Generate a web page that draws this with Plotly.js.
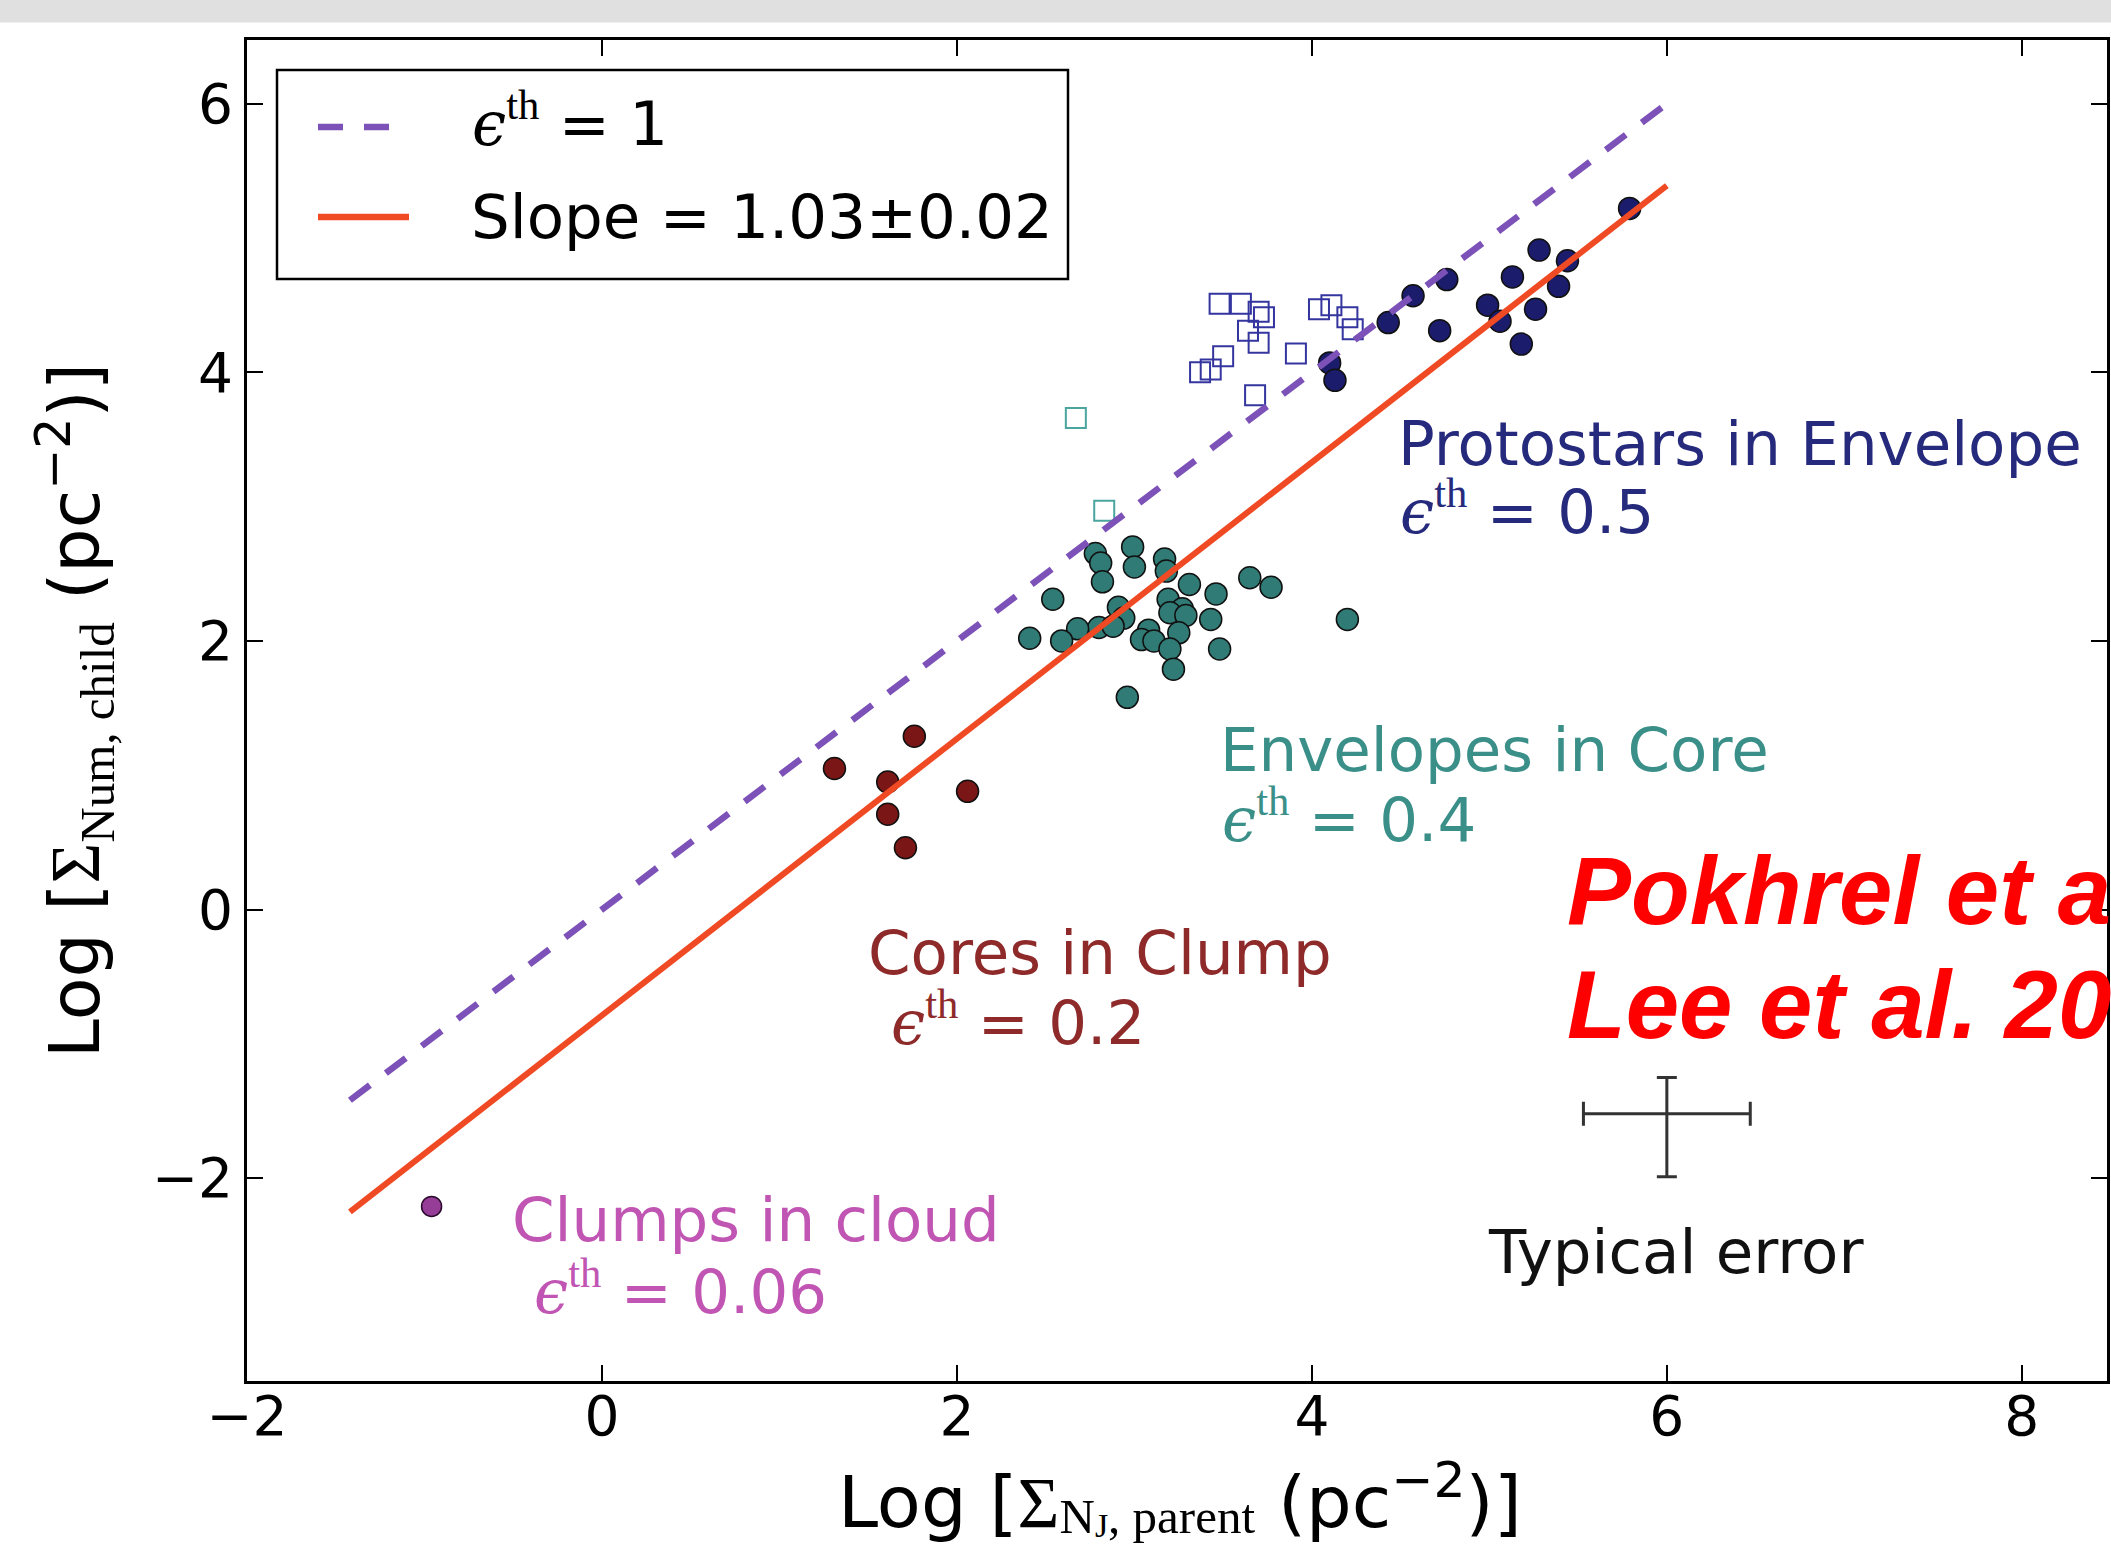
<!DOCTYPE html>
<html>
<head>
<meta charset="utf-8">
<script src="https://cdn.plot.ly/plotly-3.0.1.min.js"></script>
<style>
html,body{margin:0;padding:0;background:#ffffff;}
#chart{width:2111px;height:1548px;}
</style>
</head>
<body>
<div id="chart"></div>
<script>
// ---------------- data ----------------
// Protostars in Envelope (filled navy circles)
const protostarX = [5.79, 5.28, 5.44, 5.13, 5.39, 4.76, 4.57, 4.99, 5.26, 5.06, 4.43, 4.72, 5.18, 4.10, 4.13];
const protostarY = [5.22, 4.91, 4.83, 4.71, 4.64, 4.69, 4.57, 4.50, 4.47, 4.38, 4.37, 4.31, 4.21, 4.07, 3.94];
// Protostars (open navy squares)
const protoOpenX = [3.48, 3.60, 3.70, 3.73, 3.64, 3.70, 3.50, 3.43, 3.37, 3.91, 3.68, 4.04, 4.11, 4.20, 4.23];
const protoOpenY = [4.51, 4.51, 4.45, 4.41, 4.31, 4.22, 4.12, 4.02, 4.00, 4.14, 3.83, 4.47, 4.50, 4.41, 4.32];
// Envelopes in Core (filled teal circles)
const envelopeX = [2.99, 2.78, 3.17, 2.81, 3.00, 3.18, 2.82, 3.31, 3.65, 3.77, 3.46, 2.54, 3.19, 2.91, 3.27, 3.20, 2.94,
                   3.29, 3.43, 4.20, 2.80, 2.88, 2.68, 2.41, 2.59, 3.08, 3.04, 3.11, 3.25, 3.20, 3.48, 3.22, 2.96];
const envelopeY = [2.70, 2.65, 2.61, 2.58, 2.55, 2.52, 2.44, 2.42, 2.47, 2.40, 2.35, 2.31, 2.31, 2.25, 2.24, 2.21, 2.17,
                   2.19, 2.16, 2.16, 2.10, 2.11, 2.09, 2.02, 2.00, 2.08, 2.01, 2.00, 2.06, 1.94, 1.94, 1.79, 1.58];
// Envelopes (open teal squares)
const envelopeOpenX = [2.67, 2.83];
const envelopeOpenY = [3.66, 2.97];
// Cores in Clump (dark red)
const coreX = [1.76, 1.31, 1.61, 2.06, 1.61, 1.71];
const coreY = [1.29, 1.05, 0.95, 0.88, 0.71, 0.46];
// Clumps in cloud (magenta)
const clumpX = [-0.96];
const clumpY = [-2.21];
// epsilon_th = 1 line and fitted line (slope 1.03)
const unityX = [-1.42, 6.0];
const unityY = [-1.42, 6.0];
const fitX = [-1.42, 6.0];
const fitY = [-2.25, 5.39];
// typical error cross
const errX = [6.0];
const errY = [-1.52];
const errXSize = [0.47];
const errYPlus = [0.27];
const errYMinus = [0.47];
// axis ticks
const xTicks = [-2, 0, 2, 4, 6, 8];
const yTicks = [-2, 0, 2, 4, 6];

// ---------------- styles ----------------
const NAVY = '#1c1c6c', NAVY_TXT = '#262a7c', NAVY_SQ = '#3535a0';
const TEAL = '#307b75', TEAL_TXT = '#3b8f89', TEAL_SQ = '#49a59e';
const DRED = '#7b1616', DRED_TXT = '#8e2a2a';
const MAG = '#953d97', MAG_TXT = '#c155b3';
const PURPLE = '#7d52b8', ORANGE = '#f04a24';
const EPS = (v) => `<span style="font-family:'DejaVu Serif';font-style:italic">ϵ</span><sup><span style="font-family:'Liberation Serif'">th</span></sup> = ${v}`;

const edge = {color: '#111111', width: 1.5};

const traces = [
  {x: protoOpenX, y: protoOpenY, type: 'scatter', mode: 'markers', name: 'Protostars (open)',
   marker: {symbol: 'square-open', size: 20, color: NAVY_SQ, line: {width: 2, color: NAVY_SQ}}},
  {x: envelopeOpenX, y: envelopeOpenY, type: 'scatter', mode: 'markers', name: 'Envelopes (open)',
   marker: {symbol: 'square-open', size: 20, color: TEAL_SQ, line: {width: 2, color: TEAL_SQ}}},
  {x: protostarX, y: protostarY, type: 'scatter', mode: 'markers', name: 'Protostars in Envelope',
   marker: {symbol: 'circle', size: 22, color: NAVY, line: edge}},
  {x: envelopeX, y: envelopeY, type: 'scatter', mode: 'markers', name: 'Envelopes in Core',
   marker: {symbol: 'circle', size: 22, color: TEAL, line: edge}},
  {x: coreX, y: coreY, type: 'scatter', mode: 'markers', name: 'Cores in Clump',
   marker: {symbol: 'circle', size: 22, color: DRED, line: edge}},
  {x: clumpX, y: clumpY, type: 'scatter', mode: 'markers', name: 'Clumps in cloud',
   marker: {symbol: 'circle', size: 20, color: MAG, line: {color: '#2a0a2a', width: 1.5}}},
  {x: unityX, y: unityY, type: 'scatter', mode: 'lines', name: 'ϵth = 1',
   line: {color: PURPLE, width: 6.5, dash: '25px,20px'}},
  {x: fitX, y: fitY, type: 'scatter', mode: 'lines', name: 'Slope = 1.03±0.02',
   line: {color: ORANGE, width: 6}},
  {x: errX, y: errY, type: 'scatter', mode: 'markers', name: 'Typical error',
   marker: {size: 1, color: 'rgba(0,0,0,0)'},
   error_x: {type: 'data', array: errXSize, color: '#333333', thickness: 3, width: 12},
   error_y: {type: 'data', symmetric: false, array: errYPlus, arrayminus: errYMinus, color: '#333333', thickness: 3, width: 10}}
];

// plot area geometry helpers (paper coords)
const L = 247, R = 4, T = 40, B = 167, W = 2111, H = 1548;
const PW = W - L - R, PH = H - T - B;
const px = (p) => (p - L) / PW;       // page x -> paper x
const py = (p) => (H - B - p) / PH;   // page y -> paper y

const ann = (text, x, y, color, extra) => Object.assign({
  text: text, x: x, y: y, xref: 'x', yref: 'y', xanchor: 'left', yanchor: 'bottom',
  showarrow: false, borderpad: 0, borderwidth: 0,
  font: {family: 'DejaVu Sans', size: 61, color: color}
}, extra || {});

const RED_FONT = {family: 'Liberation Sans', size: 96, color: '#ff0000', weight: 'bold', style: 'italic'};

const SERIF = "font-family:'Liberation Serif'";
const X_TITLE = `Log [<span style="${SERIF}">Σ</span>` +
  `<span style="${SERIF};font-size:49px;baseline-shift:-6px">N</span>` +
  `<span style="${SERIF};font-size:34px;baseline-shift:-10px">J</span>` +
  `<span style="${SERIF};font-size:49px;baseline-shift:-6px">, parent</span> (pc<sup>−2</sup>)]`;
const Y_TITLE = `Log [<span style="${SERIF}">Σ<sub>Num, child</sub></span> (pc<sup>−2</sup>)]`;

const annotations = [
  ann('Protostars in Envelope', 4.486, 3.208, NAVY_TXT),
  ann(EPS('0.5'), 4.498, 2.703, NAVY_TXT),
  ann('Envelopes in Core', 3.485, 0.929, TEAL_TXT),
  ann(EPS('0.4'), 3.492, 0.408, TEAL_TXT),
  ann('Cores in Clump', 1.497, -0.585, DRED_TXT),
  ann(EPS('0.2'), 1.627, -1.106, DRED_TXT),
  ann('Clumps in cloud', -0.509, -2.570, MAG_TXT),
  ann(EPS('0.06'), -0.385, -3.111, MAG_TXT),
  ann('Typical error', 4.990, -2.811, '#111111'),
  ann('Pokhrel et a', 5.435, -0.258, '#ff0000', {font: RED_FONT}),
  ann('Lee et al. 20', 5.435, -1.108, '#ff0000', {font: RED_FONT}),
  // legend texts
  ann(EPS('1'), px(472), py(159), '#000000', {xref: 'paper', yref: 'paper'}),
  ann('Slope = 1.03±0.02', px(471), py(252), '#000000', {xref: 'paper', yref: 'paper'}),
  // x-axis title (placed as an annotation so it can sit as low as in the reference)
  ann(X_TITLE, px(1180), py(1450), '#000000',
      {xref: 'paper', yref: 'paper', xanchor: 'center', yanchor: 'top',
       font: {family: 'DejaVu Sans', size: 72, color: '#000000'}})
];

const shapes = [
  // grey strip at the top of the picture
  {type: 'rect', xref: 'paper', yref: 'paper', x0: px(0), x1: px(W + 2), y0: py(22.5), y1: py(-2),
   fillcolor: '#e0e0e0', line: {width: 0}, layer: 'below'},
  // legend box
  {type: 'rect', xref: 'paper', yref: 'paper', x0: px(277), x1: px(1068), y0: py(279), y1: py(70),
   fillcolor: '#ffffff', line: {color: '#000000', width: 2.5}, layer: 'above'},
  // legend samples
  {type: 'line', xref: 'paper', yref: 'paper', x0: px(318), x1: px(409), y0: py(127), y1: py(127),
   line: {color: PURPLE, width: 6.5, dash: '25px,21px'}, layer: 'above'},
  {type: 'line', xref: 'paper', yref: 'paper', x0: px(318), x1: px(409), y0: py(217), y1: py(217),
   line: {color: ORANGE, width: 6.5}, layer: 'above'}
];

const axisCommon = {
  ticks: 'inside', ticklen: 16, tickwidth: 2, tickcolor: '#000000',
  showline: true, linewidth: 3, linecolor: '#000000', mirror: 'ticks',
  showgrid: false, zeroline: false, automargin: false,
  tickfont: {family: 'DejaVu Sans', size: 55, color: '#000000'}
};

const layout = {
  width: W, height: H,
  margin: {l: L, r: R, t: T, b: B, pad: 0},
  paper_bgcolor: '#ffffff', plot_bgcolor: '#ffffff',
  showlegend: false,
  font: {family: 'DejaVu Sans', color: '#000000'},
  xaxis: Object.assign({}, axisCommon, {
    range: [-2, 8.48], tickmode: 'array', tickvals: xTicks, ticklabelstandoff: -15
  }),
  yaxis: Object.assign({}, axisCommon, {
    range: [-3.51, 6.474], tickmode: 'array', tickvals: yTicks,
    title: {text: Y_TITLE, font: {family: 'DejaVu Sans', size: 70, color: '#000000'}, standoff: 30}
  }),
  annotations: annotations,
  shapes: shapes
};

Plotly.newPlot('chart', traces, layout, {displayModeBar: false, staticPlot: true});
</script>
</body>
</html>
